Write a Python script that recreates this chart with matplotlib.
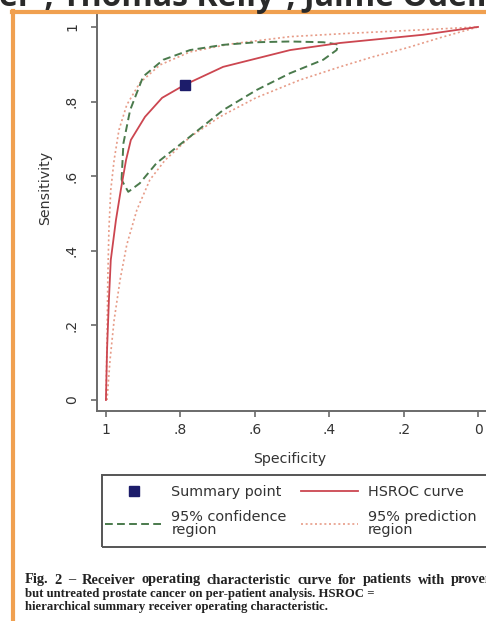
import matplotlib
matplotlib.use("Agg")
import matplotlib.pyplot as plt
from matplotlib.lines import Line2D
from matplotlib.patches import Rectangle

W, H = 486, 621
DPI = 100

# ---------------- data (specificity, sensitivity) ----------------
summary_spec = [0.788]
summary_sens = [0.845]

hsroc_spec = [1.000, 0.997, 0.992, 0.987, 0.973, 0.960, 0.946, 0.933, 0.895,
              0.849, 0.788, 0.685, 0.505, 0.371, 0.148, 0.000]
hsroc_sens = [0.000, 0.134, 0.268, 0.375, 0.483, 0.563, 0.643, 0.697, 0.759,
              0.810, 0.845, 0.893, 0.938, 0.957, 0.979, 1.000]

conf_spec = [0.958, 0.953, 0.935, 0.900, 0.846, 0.774, 0.685, 0.595, 0.505,
             0.416, 0.376, 0.380, 0.416, 0.505, 0.595, 0.685, 0.774, 0.864,
             0.909, 0.940, 0.958]
conf_sens = [0.590, 0.688, 0.777, 0.867, 0.912, 0.938, 0.952, 0.959, 0.961,
             0.959, 0.953, 0.938, 0.912, 0.876, 0.831, 0.777, 0.706, 0.635,
             0.581, 0.558, 0.590]

pred_spec = [1.000, 0.997, 0.995, 0.992, 0.987, 0.978, 0.965, 0.944, 0.909,
             0.855, 0.774, 0.667, 0.505, 0.344, 0.156, 0.000,
             0.102, 0.191, 0.282, 0.371, 0.478, 0.597, 0.694, 0.774, 0.841,
             0.882, 0.917, 0.944, 0.962, 0.978, 0.989, 0.997]
pred_sens = [0.000, 0.161, 0.322, 0.456, 0.563, 0.643, 0.724, 0.791, 0.850,
             0.898, 0.933, 0.954, 0.974, 0.983, 0.992, 1.000,
             0.971, 0.944, 0.920, 0.893, 0.858, 0.810, 0.759, 0.705, 0.643,
             0.590, 0.509, 0.416, 0.322, 0.214, 0.107, 0.000]

ticks = [1.0, 0.8, 0.6, 0.4, 0.2, 0.0]
tick_labels = ["1", ".8", ".6", ".4", ".2", "0"]

legend_labels = ["Summary point", "95% confidence\nregion", "HSROC curve",
                 "95% prediction\nregion"]

header_text = "er\u00b9, Thomas Kelly\u00b9, Jaime Odell"
caption_lines = [
    "Fig. 2 \u2013 Receiver operating characteristic curve for patients with proven",
    "but untreated prostate cancer on per-patient analysis. HSROC =",
    "hierarchical summary receiver operating characteristic.",
]

# ---------------- styling ----------------
RED = "#cc4650"
GREEN = "#4a7a4c"
PINK = "#e79c88"
NAVY = "#1c1c6a"
AXC = "#6a6a6a"
ORANGE = "#f0a050"
TXT = "#333333"

plt.rcParams['font.family'] = ['DejaVu Sans']

fig = plt.figure(figsize=(W / DPI, H / DPI), dpi=DPI)
fig.patch.set_facecolor("white")


def fx(px):
    return px / W


def fy(py):
    return 1 - py / H


# orange frame (left and top)
fig.add_artist(Line2D([fx(13), fx(13)], [fy(11), 0], color=ORANGE, lw=3.0))
fig.add_artist(Line2D([fx(11.5), 1], [fy(12), fy(12)], color=ORANGE, lw=3.0))

# header (cut at top)
fig.text(0.5, fy(6.0), header_text, ha="center", va="baseline",
         fontsize=23, fontweight="bold", family="Open Sans", color="#2a2a2a")

# axes
ax = fig.add_axes([fx(97), fy(411), fx(486) - fx(97), fy(15) - fy(411)])
ax.set_xlim(1.024, -0.0215)
ax.set_ylim(-0.0295, 1.032)
ax.set_facecolor("white")

ax.plot(pred_spec, pred_sens, color=PINK, lw=1.2, ls=(0, (1.2, 1.6)), zorder=2)
ax.plot(conf_spec, conf_sens, color=GREEN, lw=1.4, ls=(0, (4, 2.2)), zorder=3)
ax.plot(hsroc_spec, hsroc_sens, color=RED, lw=1.3, zorder=4)
ax.plot(summary_spec, summary_sens, ls="none", marker="s", ms=7.5,
        color=NAVY, zorder=5)

for s in ["top", "right"]:
    ax.spines[s].set_visible(False)
for s in ["left", "bottom"]:
    ax.spines[s].set_color(AXC)
    ax.spines[s].set_linewidth(1.4)

ax.set_xticks(ticks)
ax.set_xticklabels(tick_labels)
ax.set_yticks(ticks)
ax.set_yticklabels(tick_labels, rotation=90, va="center")
ax.tick_params(axis="both", colors=AXC, labelcolor=TXT, labelsize=10,
               length=4, width=1.2, direction="out")
ax.tick_params(axis="x", pad=5)
ax.tick_params(axis="y", pad=9)

fig.text(fx(290), fy(459), "Specificity", ha="center", va="center",
         fontsize=10.2, color=TXT)
fig.text(fx(45), fy(188), "Sensitivity", ha="center", va="center",
         rotation=90, fontsize=10.2, color=TXT)

# legend frame (runs past the right edge, as in the scan)
fig.add_artist(Rectangle((fx(102), fy(547)), fx(500) - fx(102),
                         fy(475) - fy(547), transform=fig.transFigure,
                         fill=False, edgecolor="#555555", lw=1.4))

h_sum = Line2D([], [], ls="none", marker="s", ms=7, color=NAVY)
h_conf = Line2D([], [], color=GREEN, lw=1.4, ls=(0, (4, 2.2)))
h_hs = Line2D([], [], color=RED, lw=1.3)
h_pred = Line2D([], [], color=PINK, lw=1.2, ls=(0, (1.2, 1.6)))
leg = fig.legend([h_sum, h_conf, h_hs, h_pred], legend_labels, ncol=2,
                 loc="upper left", bbox_to_anchor=(fx(105), fy(485)),
                 fontsize=10.4, frameon=False,
                 handlelength=3.95, handletextpad=0.65, columnspacing=1.0,
                 borderpad=0.0, labelspacing=0.75, borderaxespad=0)
for t in leg.get_texts():
    t.set_color(TXT)
    t.set_linespacing(0.95)

# caption
cap_kw = dict(fontweight="bold", family="Liberation Serif",
              color="#222222", va="center", ha="left")
fig.canvas.draw()
renderer = fig.canvas.get_renderer()

# first line: slightly wider setting, spread across the (cut) column width
L1 = 10.4
words = caption_lines[0].split(" ")
widths = []
for w_ in words:
    t = fig.text(0, 0, w_, fontsize=L1, **cap_kw)
    widths.append(t.get_window_extent(renderer).width)
    t.remove()
x0, x1 = 25.0, 494.0
gap = (x1 - x0 - sum(widths)) / (len(words) - 1)
xp = x0
for w_, wd in zip(words, widths):
    fig.text(fx(xp), fy(580), w_, fontsize=L1, **cap_kw)
    xp += wd + gap

for i, line in enumerate(caption_lines[1:], start=1):
    fig.text(fx(25), fy(580 + i * 13.5), line, fontsize=9.2, **cap_kw)

fig.savefig("out.png", dpi=DPI, facecolor="white")
